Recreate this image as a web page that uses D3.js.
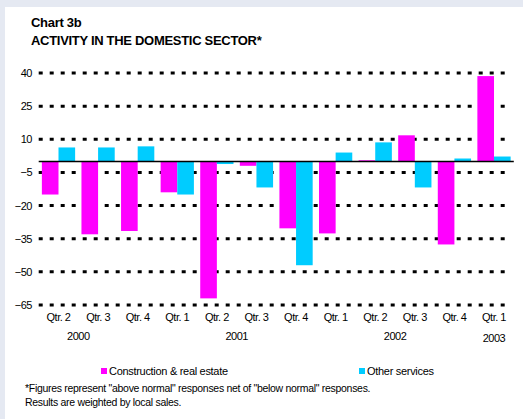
<!DOCTYPE html>
<html>
<head>
<meta charset="utf-8">
<script src="https://cdn.jsdelivr.net/npm/d3@7"></script>
<style>
  html, body { margin: 0; padding: 0; background: #e5e9f2; }
  svg { display: block; }
  text { font-family: "Liberation Sans", Arial, sans-serif; fill: #000; }
</style>
</head>
<body>
<script>
// Quarterly survey balances, two sectors
const categories = ["Qtr. 2", "Qtr. 3", "Qtr. 4", "Qtr. 1", "Qtr. 2", "Qtr. 3", "Qtr. 4",
                    "Qtr. 1", "Qtr. 2", "Qtr. 3", "Qtr. 4", "Qtr. 1"];
const construction = [-15, -33, -31.5, -14, -62, -2, -30.3, -32.6, 0.5, 11.8, -37.6, 38.6];
const otherServices = [6.3, 6.3, 6.8, -15, -1.2, -11.8, -47, 4, 8.6, -11.8, 1.3, 2.2];
const seriesNames = ["Construction & real estate", "Other services"];
const seriesColors = ["#ff00ff", "#00ccff"];
const yTicks = [40, 25, 10, -5, -20, -35, -50, -65];
// year label sits between the two listed category slots
const years = ["2000", "2001", "2002", "2003"];
const yearSlots = [[0, 1], [4, 5], [8, 9], [11, 11]];

const W = 523, H = 419;
const svg = d3.select("body").append("svg").attr("width", W).attr("height", H);

// white panel
svg.append("rect").attr("x", 5).attr("y", 7).attr("width", W - 5).attr("height", H - 7)
  .attr("fill", "#fff");

// titles
svg.append("text").attr("x", 31).attr("y", 27).attr("font-size", 13).attr("font-weight", "bold")
  .attr("letter-spacing", -0.3).text("Chart 3b");
svg.append("text").attr("x", 31).attr("y", 45).attr("font-size", 13).attr("font-weight", "bold")
  .attr("letter-spacing", -0.3).text("ACTIVITY IN THE DOMESTIC SECTOR*");

const plotLeft = 38.7, plotRight = 513.8;
const idx = categories.map((d, i) => i);
const x0 = d3.scaleBand().domain(idx).range([plotLeft, plotRight]).paddingInner(0.16).paddingOuter(0.08);
const x1 = d3.scaleBand().domain([0, 1]).range([0, x0.bandwidth()]);
const y = d3.scaleLinear().domain([-65, 40]).range([305, 73]);

// dotted gridlines
svg.append("g").selectAll("line").data(yTicks).join("line")
  .attr("x1", plotLeft).attr("x2", plotRight - 4)
  .attr("y1", d => y(d)).attr("y2", d => y(d))
  .attr("stroke", "#000").attr("stroke-width", 3).attr("stroke-dasharray", "4,7");

// y axis labels
const yAxis = d3.axisLeft(y).tickValues(yTicks).tickSize(0).tickPadding(0).tickFormat(d3.format("d"));
const yg = svg.append("g").attr("transform", "translate(32,0)").call(yAxis);
yg.select(".domain").remove();
yg.selectAll("text").attr("font-size", 11).attr("letter-spacing", -0.5)
  .attr("font-family", "Liberation Sans, Arial, sans-serif").attr("fill", "#000");

// bars
const seriesData = [construction, otherServices];
seriesData.forEach((vals, s) => {
  svg.append("g").selectAll("rect").data(vals).join("rect")
    .attr("x", (d, i) => x0(i) + x1(s))
    .attr("y", d => y(Math.max(0, d)))
    .attr("width", x1.bandwidth())
    .attr("height", d => Math.abs(y(d) - y(0)))
    .attr("fill", seriesColors[s]);
});

// zero line
svg.append("line").attr("x1", plotLeft).attr("x2", plotRight).attr("y1", y(0)).attr("y2", y(0))
  .attr("stroke", "#000").attr("stroke-width", 1.5);

// category labels
const xAxis = d3.axisBottom(x0).tickSize(0).tickPadding(0).tickFormat(i => categories[i]);
const xg = svg.append("g").attr("transform", "translate(0,313)").call(xAxis);
xg.select(".domain").remove();
xg.selectAll("text").attr("font-size", 11).attr("letter-spacing", -0.5)
  .attr("font-family", "Liberation Sans, Arial, sans-serif").attr("fill", "#000");

// year labels
svg.append("g").selectAll("text").data(years).join("text")
  .attr("x", (d, i) => (x0(yearSlots[i][0]) + x0(yearSlots[i][1])) / 2 + x0.bandwidth() / 2)
  .attr("y", (d, i) => i === 3 ? 342 : 340)
  .attr("text-anchor", "middle").attr("font-size", 11).attr("letter-spacing", -0.5)
  .text(d => d);

// legend
const legendX = [101, 359];
seriesNames.forEach((name, s) => {
  svg.append("rect").attr("x", legendX[s]).attr("y", 368).attr("width", 6).attr("height", 6)
    .attr("fill", seriesColors[s]);
  svg.append("text").attr("x", legendX[s] + 8).attr("y", 374.5).attr("font-size", 11)
    .attr("letter-spacing", -0.3).text(name);
});

// footnote
const notes = ["*Figures represent \"above normal\" responses net of \"below normal\" responses.",
               "Results are weighted by local sales."];
svg.append("g").selectAll("text").data(notes).join("text")
  .attr("x", 25).attr("y", (d, i) => 392 + i * 14)
  .attr("font-size", 10.5).attr("letter-spacing", -0.3).text(d => d);
</script>
</body>
</html>
